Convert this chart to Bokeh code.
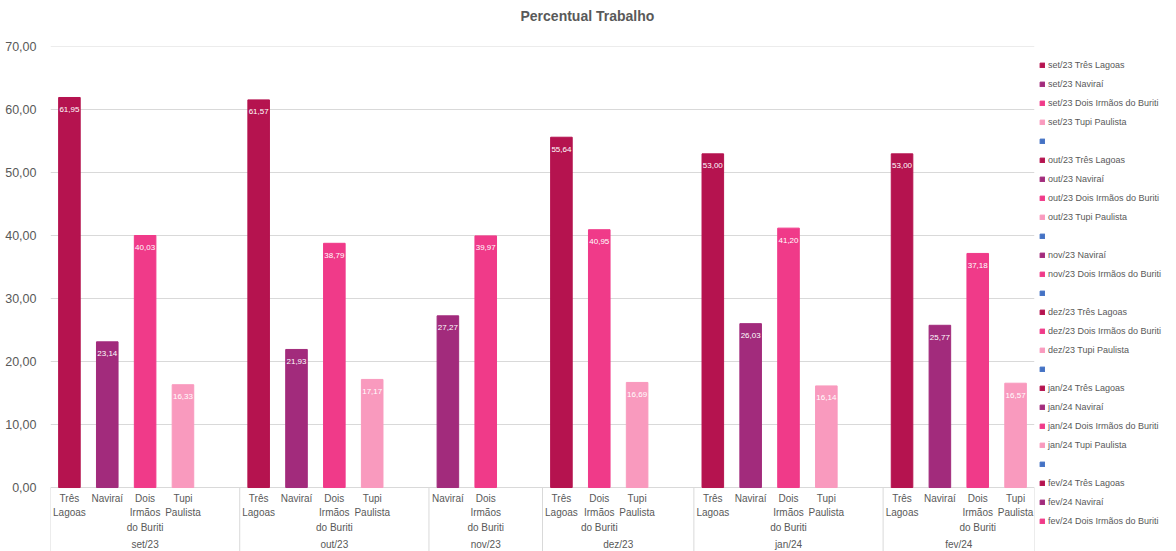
from bokeh.plotting import figure
from bokeh.models import ColumnDataSource, FactorRange, Range1d, FixedTicker, Legend, LegendItem, Title
from bokeh.core.properties import value
from bokeh.embed import file_html
from bokeh.resources import INLINE

# ---- data -------------------------------------------------------------
months = ["set/23", "out/23", "nov/23", "dez/23", "jan/24", "fev/24"]
cities = ["Três Lagoas", "Naviraí", "Dois Irmãos do Buriti", "Tupi Paulista"]
city_axis_labels = ["Três\nLagoas", "Naviraí", "Dois\nIrmãos\ndo Buriti", "Tupi\nPaulista"]
city_colors = ["#B5134F", "#A22B7C", "#F03A89", "#F99ABE"]
spacer_color = "#4472C4"

# percentual per city and month (None = no record that month)
tres_lagoas = [61.95, 61.57, None, 55.64, 53.00, 53.00]
navirai = [23.14, 21.93, 27.27, None, 26.03, 25.77]
dois_irmaos = [40.03, 38.79, 39.97, 40.95, 41.20, 37.18]
tupi_paulista = [16.33, 17.17, None, 16.69, 16.14, 16.57]
# an empty category closes every month block except the last one
spacer_after = [True, True, True, True, True, False]

y_ticks = [0, 10, 20, 30, 40, 50, 60, 70]

FONT = "Liberation Sans"
GREY = "#595959"
GRID = "#D9D9D9"


def br(v):
    return f"{v:.2f}".replace(".", ",")


# ---- build one row per category slot ---------------------------------
series = [tres_lagoas, navirai, dois_irmaos, tupi_paulista]
factors, tops, colors, legend_labels = [], [], [], []
bar_x, bar_top, bar_txt = [], [], []
axis_x, axis_txt = [], []
edges = []
for m, month in enumerate(months):
    first = True
    for c, city in enumerate(cities):
        v = series[c][m]
        if v is None:
            continue
        f = (month, city)
        if first:
            edges.append((month, city, -0.5))
            first = False
        factors.append(f)
        tops.append(v)
        colors.append(city_colors[c])
        legend_labels.append(f"{month} {city}")
        bar_x.append(f)
        bar_top.append(v)
        bar_txt.append(br(v))
        axis_x.append(f)
        axis_txt.append(city_axis_labels[c])
    if spacer_after[m]:
        factors.append((month, " "))
        tops.append(float("nan"))
        colors.append(spacer_color)
        legend_labels.append(" ")
edges.append(factors[-1] + (0.5,))

bars_src = ColumnDataSource(dict(x=factors, top=tops, color=colors))

Y_BOTTOM = -10.32
p = figure(
    frame_width=984, frame_height=506,
    x_range=FactorRange(*factors, factor_padding=0, group_padding=0, range_padding=0),
    y_range=Range1d(Y_BOTTOM, 70.05),
    x_axis_location=None,
    output_backend="svg", toolbar_location=None,
    min_border_left=50, min_border_right=142, min_border_top=45, min_border_bottom=0,
)
p.outline_line_color = None
p.background_fill_color = "white"
p.border_fill_color = "white"

# title, lifted off the frame by an empty spacer line
p.title.text = "Percentual Trabalho"
p.title.align = "left"
p.title.offset = 470
p.title.vertical_align = "bottom"
p.title.text_font = FONT
p.title.text_font_size = "14px"
p.title.text_font_style = "bold"
p.title.text_color = GREY
p.title.standoff = 10
p.add_layout(Title(text=" ", text_font_size="12px", standoff=2), "above")

# y axis
p.yaxis.ticker = FixedTicker(ticks=y_ticks)
p.yaxis.major_label_overrides = {t: br(t) for t in y_ticks}
p.yaxis.axis_line_color = None
p.yaxis.major_tick_line_color = None
p.yaxis.minor_tick_line_color = None
p.yaxis.major_label_standoff = 8
p.yaxis.major_label_text_font = FONT
p.yaxis.major_label_text_font_size = "12.5px"
p.yaxis.major_label_text_color = GREY
p.ygrid.grid_line_color = GRID
p.ygrid.grid_line_width = 1
p.xgrid.grid_line_color = None

# bars
bars = p.vbar(x="x", top="top", bottom=0, width=0.57, source=bars_src,
              fill_color="color", line_color="color")

# value labels inside the bar ends
p.text(x=bar_x, y=bar_top, text=bar_txt, text_align="center", text_baseline="middle",
       y_offset=12, text_color="white", text_font_size="8px", text_font=value(FONT))

# category axis: city names, month names and block separators
p.segment(x0=edges, y0=0, x1=edges, y1=Y_BOTTOM, line_color=GRID, line_width=1)
p.text(x=axis_x, y=[0] * len(axis_x), text=axis_txt, text_align="center",
       text_baseline="top", y_offset=5, text_line_height=1.35,
       text_color=GREY, text_font_size="10px", text_font=value(FONT))
p.text(x=months, y=[0] * len(months), text=months, text_align="center",
       text_baseline="middle", y_offset=57,
       text_color=GREY, text_font_size="10px", text_font=value(FONT))

# legend: one entry per category slot; the final slot has no room below
items = [LegendItem(label=lbl, renderers=[bars], index=i)
         for i, lbl in enumerate(legend_labels[:-1])]
legend = Legend(items=items, location=(5, 26), ncols=1, padding=0, margin=0,
                glyph_width=6, glyph_height=6, label_standoff=3,
                label_height=11, spacing=8,
                label_text_font=FONT, label_text_font_size="9px", label_text_color=GREY,
                border_line_color=None, background_fill_alpha=0)
p.add_layout(legend, "right")

open("out.html", "w").write(file_html(p, INLINE))
